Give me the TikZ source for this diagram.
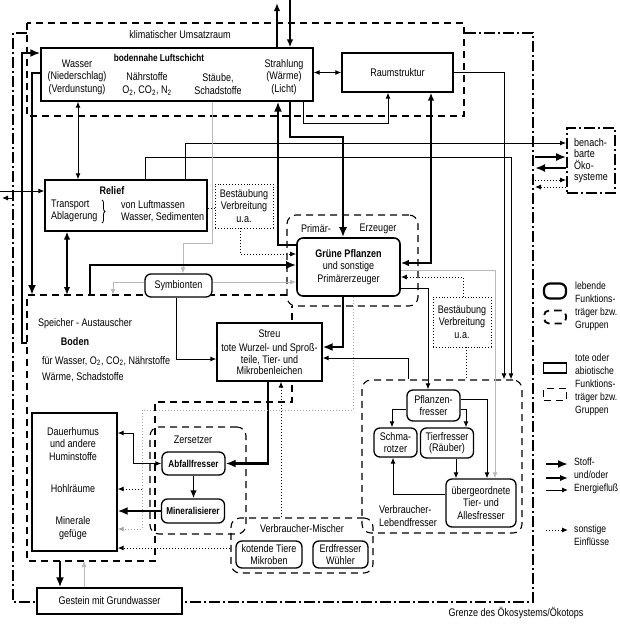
\documentclass[tikz,border=0pt]{standalone}
\usepackage{fontspec}
\setmainfont{Liberation Sans}[FakeStretch=0.82]
\usepackage{tikz}
\usetikzlibrary{positioning}
\usetikzlibrary{calc}
\usetikzlibrary{arrows.meta}
\usetikzlibrary{decorations.pathreplacing}
\tikzset{
	x=1pt, y=-1pt,
	>={Latex[length=6pt,width=5pt]},
	every node/.style={align=center, inner sep=0pt, font=\fontsize{11}{12.5}\selectfont},
	sz/.style 2 args={minimum width=#1, minimum height=#2},
	kasten/.style={draw, line width=1.3pt, fill=white},
	lebend/.style={draw, line width=1.3pt, rounded corners=6pt, fill=white},
	gruppe/.style={draw, line width=1.1pt, dash pattern=on 7pt off 5pt, rounded corners=9pt},
	gebiet/.style={line width=1.1pt, dash pattern=on 7pt off 5pt},
	grenze/.style={line width=1.7pt, dash pattern=on 11pt off 3pt on 2pt off 3pt},
	einfl/.style={draw, line width=0.9pt, dotted, fill=white},
	fluss/.style={line width=1pt, ->},
	mfluss/.style={line width=1.6pt, -{Latex[length=8pt,width=6.5pt]}},
	dfluss/.style={line width=2.5pt, -{Latex[length=10pt,width=8pt]}},
	gfluss/.style={fluss, gray!55},
	sonst/.style={line width=1pt, dotted, ->},
	klein/.style={font=\fontsize{10}{12}\selectfont},
	eng/.style={font=\fontsize{11}{11.5}\selectfont},
	legtext/.style={anchor=north west, align=left, font=\fontsize{10.5}{12.8}\selectfont}
}

\begin{document}
\begin{tikzpicture}
	\useasboundingbox (0,0) rectangle (620,625);
	% Grenzen und Gruppen
	\draw[grenze] (27,33) -- (13,33) -- (13,602) -- (533,602) -- (533,33) -- (464,33);
	\draw[gebiet] (27,23) rectangle (464,116);
	\draw[gebiet] (287,295) -- (27,295) -- (27,561) -- (155,561) -- (155,402) -- (292,402) -- (292,306);
	\coordinate (bodenNW) at (27,295);
	\coordinate (bodenW) at (27,343);
	\node (primgr) [gruppe, sz={131}{91}] at (352.5,260.5) {};
	\node (zersgr) [gruppe, sz={96}{107}] at (198,480.5) {};
	\node (mischgr) [gruppe, sz={142}{55}] at (302,545.5) {};
	\node (lebgr) [gruppe, sz={160}{153}] at (442,456.5) {};

	\node (klima) at (180,35) {klimatischer Umsatzraum};
	\node (primL) at (316,229) {Primär-};
	\node (primR) at (378,229) {Erzeuger};
	\node (zersL) at (193,440) {Zersetzer};
	\node (mischL) at (302,529) {Verbraucher-Mischer};
	\node (lebL) [anchor=west, align=left] at (379,516) {Verbraucher-\\Lebendfresser};
	\node (grenzL) at (516,613) {Grenze des Ökosystems/Ökotops};

	% Luftschicht
	\node (luft) [kasten, sz={272}{53}] at (177,74.5) {};
	\node (luftT) [font=\fontsize{10}{12}\selectfont] at (159,58) {\textbf{bodennahe Luftschicht}};
	\node (wasser) at (77,77) {Wasser\\(Niederschlag)\\(Verdunstung)};
	\node (naehr) at (147,84) {Nährstoffe\\O\textsubscript{2}, CO\textsubscript{2}, N\textsubscript{2}};
	\node (staub) at (218,84) {Stäube,\\Schadstoffe};
	\node (strahl) at (284,77) {Strahlung\\(Wärme)\\(Licht)};
	\node (raum) [kasten, sz={111}{39}] at (397.5,72.5) {Raumstruktur};

	% Relief
	\node (relief) [kasten, sz={162}{51}] at (126,205.5) {};
	\node (reliefT) at (112,191) {\textbf{Relief}};
	\node (transp) [anchor=west, align=left] at (51,211) {Transport\\Ablagerung};
	\draw[line width=0.8pt, decorate, decoration={brace, amplitude=3pt}] (102,200) -- (102,223);
	\node (luftm) [anchor=west, align=left] at (121,211) {von Luftmassen\\Wasser, Sedimenten};
	\node (best1) [einfl, sz={58}{44}] at (244,206) {Bestäubung\\Verbreitung\\u.a.};

	\node (gruen) [lebend, line width=1.6pt, sz={103}{58}] at (348.5,267) {\textbf{Grüne Pflanzen}\\und sonstige\\Primärerzeuger};
	\node (symb) [lebend, sz={67}{23}] at (178.5,285.5) {Symbionten};

	% Boden
	\node (speich) at (85,324) {Speicher - Austauscher};
	\node (boden) at (75,342) {\textbf{Boden}};
	\node (fuer) [anchor=west, align=left, font=\fontsize{11}{16}\selectfont] at (42,369) {für Wasser, O\textsubscript{2}, CO\textsubscript{2}, Nährstoffe\\Wärme, Schadstoffe};
	\node (streu) [kasten, eng, sz={105}{58}] at (269.5,352) {Streu\\[3pt]tote Wurzel- und Sproß-\\teile, Tier- und\\Mikrobenleichen};
	\node (dauer) [kasten, sz={85}{138}] at (74.5,482) {};
	\node (humus) at (73,444) {Dauerhumus\\und andere\\Huminstoffe};
	\node (hohl) at (73,489) {Hohlräume};
	\node (minge) at (73,528) {Minerale\\gefüge};
	\node (abfall) [lebend, klein, sz={63}{23}] at (193.5,463.5) {\textbf{Abfallfresser}};
	\node (miner) [lebend, klein, sz={63}{24}] at (193,511) {\textbf{Mineralisierer}};
	\node (kotend) [lebend, eng, sz={66}{27}] at (269,554.5) {kotende Tiere\\Mikroben};
	\node (erdfr) [lebend, eng, sz={55}{27}] at (340.5,554.5) {Erdfresser\\Wühler};
	\node (gestein) [kasten, sz={145}{26}] at (109.5,601) {Gestein mit Grundwasser};

	% Verbraucher
	\node (best2) [einfl, sz={58}{50}] at (462,322) {Bestäubung\\Verbreitung\\u.a.};
	\node (pflfr) [lebend, eng, sz={53}{31}] at (433.5,405.5) {Pflanzen-\\fresser};
	\node (schma) [lebend, eng, sz={43}{29}] at (395.5,442.5) {Schma-\\rotzer};
	\node (tierfr) [lebend, eng, sz={53}{30}] at (447,443) {Tierfresser\\(Räuber)};
	\node (ueber) [lebend, sz={70}{48}] at (481,503) {übergeordnete\\Tier- und\\Allesfresser};
	\node (nachbar) [draw, grenze, fill=white, align=left, eng, sz={48}{65}] at (591,160.5) {benach-\\barte\\Öko-\\systeme};

	% freie Enden
	\coordinate (waermeAus) at (277,3);
	\coordinate (sonneIn) at (290,0);
	\coordinate (linksIn) at (0,191);
	\coordinate (grenzeAus) at (13,198);
	\coordinate (linksAus) at (2,198);
	\coordinate (nIn) at (535,157);
	\coordinate (nAus) at (535,168);
	\coordinate (nsIn) at (535,180);
	\coordinate (nsAus) at (535,187);
	\coordinate (bodenS1) at (60,561);
	\coordinate (bodenS2) at (84,561);
	\coordinate (knoten) at (142,489);

	% Stoff- und Energiefluss
	\draw[mfluss] (277,0 |- luft.north) -- (waermeAus);
	\draw[mfluss] (sonneIn) -- (290,0 |- luft.north);
	\draw[fluss, <->] (luft.east |- raum.west) -- (raum.west);
	\draw[fluss] (303,0 |- luft.south) |- (388,123) -- (388,0 |- raum.south);
	\draw[dfluss] (290,0 |- luft.south) |- (343,137) -- (343,0 |- gruen.north);
	\draw[dfluss] (gruen.west |- 0,245) -| (278,0 |- luft.south);
	\draw[mfluss, {Latex[length=8pt,width=6.5pt]}-{Latex[length=8pt,width=6.5pt]}] (431,0 |- raum.south) |- (gruen.east |- 0,263);
	\draw[fluss] (raum.east) -| (504,0 |- lebgr.north);
	\draw[fluss] (145,0 |- relief.north) |- (511,157) -- (511,0 |- lebgr.north);
	\draw[fluss] (185,0 |- relief.north) |- (nachbar.west |- 0,143);
	\draw[fluss, <->] (78,0 |- luft.south) -- (78,0 |- relief.north);
	\draw[gfluss] (212,0 |- luft.south) |- (183,243) -- (183,0 |- symb.north);
	\draw[dfluss] (luft.west |- 0,73) -| (32,0 |- bodenNW);
	\draw[dfluss] (bodenW) -| (22,53) -- (luft.west |- 0,53);
	\draw[fluss] (linksIn) -- (relief.west |- linksIn);
	\draw[fluss] (grenzeAus) -- (linksAus);
	\draw[mfluss, {Latex[length=8pt,width=6.5pt]}-{Latex[length=8pt,width=6.5pt]}] (67,0 |- relief.south) -- (67,0 |- bodenNW);
	\draw[line width=1pt, dotted] (relief.east |- 0,208) -- (best1.west |- 0,208);
	\draw[sonst] (240,0 |- best1.south) |- (gruen.west |- 0,254);
	\draw[dfluss] (90,0 |- bodenNW) |- (gruen.west |- 0,265);
	\draw[gfluss] (symb.east |- 0,282) -- (gruen.west |- 0,282);
	\draw[gfluss] (symb.west |- 0,282) -| (113,0 |- bodenNW);
	\draw[fluss] (176,0 |- symb.south) |- (streu.west |- 0,359);
	\draw[dfluss] (343,0 |- gruen.south) |- (streu.east |- 0,347);
	\draw[fluss] (408,0 |- lebgr.north) |- (streu.east |- 0,358);
	\draw[fluss] (gruen.east |- 0,288) -| (428,0 |- pflfr.north);
	\draw[gfluss] (gruen.east |- 0,270) -| (495,0 |- ueber.north);
	\draw[sonst] (463,0 |- best2.north) |- (gruen.east |- 0,277);
	\draw[line width=1pt, dotted] (466,0 |- best2.south) -- (466,0 |- lebgr.north);
	\draw[fluss] (pflfr.west |- 0,409) -| (392,0 |- schma.north);
	\draw[fluss] (pflfr.east |- 0,409) -| (466,0 |- tierfr.north);
	\draw[fluss] (pflfr.east |- 0,399) -| (487,0 |- ueber.north);
	\draw[fluss] (456,0 |- tierfr.south) -- (456,0 |- ueber.north);
	\draw[fluss] (ueber.west |- 0,494) -| (393,0 |- schma.south);
	\draw[dfluss] (268,0 |- streu.south) |- (abfall.east);
	\draw[mfluss] (abfall.south) -- (abfall.south |- miner.north);
	\draw[dfluss] (miner.west) -- (dauer.east |- miner.west);
	\draw[fluss, <->] (abfall.west) -| (133,433) -- (dauer.east |- 0,433);
	\draw[sonst, gray!70] (353,0 |- gruen.south) |- (142,410) -- (142,529) -- (dauer.east |- 0,529);
	\draw[sonst] (knoten) -- (dauer.east |- knoten);
	\draw[sonst] (mischgr.west |- 0,548) -- (dauer.east |- 0,548);
	\draw[sonst] (281,0 |- mischgr.north) -- (281,0 |- streu.south);
	\draw[dfluss] (bodenS1) -- (60,0 |- gestein.north);
	\draw[gfluss] (84,0 |- gestein.north) -- (bodenS2);
	\draw[dfluss] (nIn) -- (nachbar.west |- nIn);
	\draw[dfluss] (nachbar.west |- nAus) -- (nAus);
	\draw[sonst] (nsIn) -- (nachbar.west |- nsIn);
	\draw[sonst] (nachbar.west |- nsAus) -- (nsAus);

	% Legende
	\node (legL) [lebend, line width=2.2pt, rounded corners=6pt, sz={22}{15}] at (555,291) {};
	\node (legG) [gruppe, line width=1.8pt, rounded corners=5pt, sz={22}{13}, below = 10pt of legL] {};
	\node (legLT) [legtext] at (575,282) {lebende\\Funktions-\\träger bzw.\\Gruppen};
	\node (legK) [kasten, sz={23}{10}] at (555,368) {};
	\node (legKG) [draw, gebiet, line width=1.5pt, sz={23}{12}, below = 14pt of legK] {};
	\node (legKT) [legtext] at (575,354) {tote oder\\abiotische\\Funktions-\\träger bzw.\\Gruppen};
	\coordinate (legA1) at (546,464);
	\coordinate (legA2) at (546,478);
	\coordinate (legA3) at (546,490);
	\coordinate (legA4) at (546,530);
	\draw[dfluss] (legA1) -- ++(22,0);
	\draw[mfluss] (legA2) -- ++(22,0);
	\draw[fluss] (legA3) -- ++(22,0);
	\draw[sonst] (legA4) -- ++(22,0);
	\node (legFT) [legtext, anchor=west] at (574,476) {Stoff-\\und/oder\\Energiefluß};
	\node (legST) [legtext, anchor=west] at (574,535) {sonstige\\Einflüsse};
\end{tikzpicture}
\end{document}
